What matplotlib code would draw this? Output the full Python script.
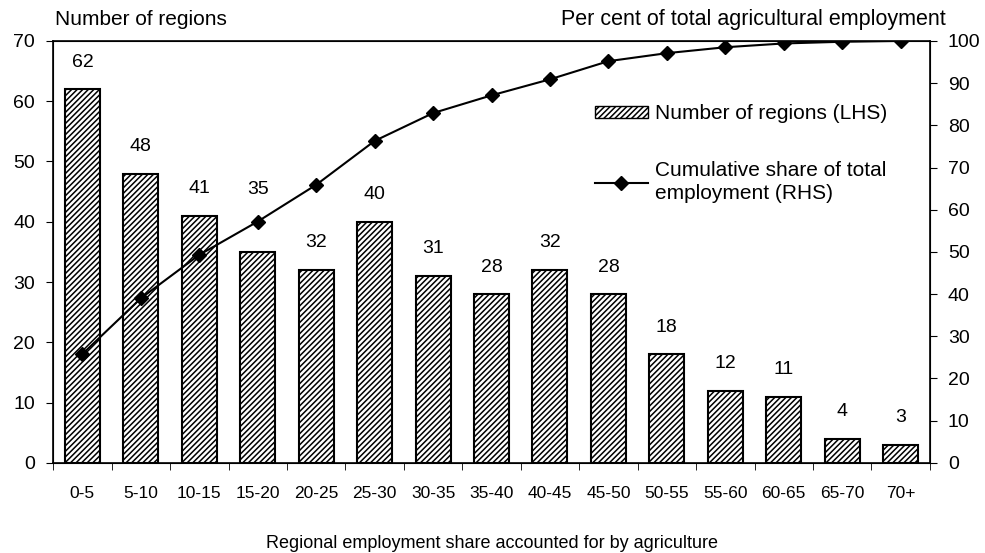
import matplotlib.pyplot as plt
import numpy as np
from matplotlib.patches import Patch
from matplotlib.lines import Line2D

plt.rcParams['font.family'] = ['Liberation Sans', 'DejaVu Sans']
plt.rcParams['hatch.linewidth'] = 1.1

categories = ['0-5', '5-10', '10-15', '15-20', '20-25', '25-30', '30-35', '35-40',
              '40-45', '45-50', '50-55', '55-60', '60-65', '65-70', '70+']
n_regions = [62, 48, 41, 35, 32, 40, 31, 28, 32, 28, 18, 12, 11, 4, 3]
cum_share = [25.8, 39.0, 49.3, 57.2, 65.9, 76.3, 82.9, 87.1, 90.9, 95.2,
             97.1, 98.5, 99.4, 99.8, 100.0]

fig = plt.figure(figsize=(9.85, 5.53), dpi=100)
ax = fig.add_axes([0.054, 0.163, 0.89, 0.763])
ax2 = ax.twinx()

x = np.arange(len(categories))
ax.bar(x, n_regions, width=0.6, color='white', edgecolor='black',
       hatch='//////', linewidth=1.5, zorder=2)
for xi, v in zip(x, n_regions):
    # the 15-20 label sits higher so it clears the line
    dy = 45 if categories[xi] == '15-20' else 19.5
    ax.annotate(str(v), (xi, v), xytext=(0, dy), textcoords='offset points',
                ha='center', va='center', fontsize=14)

ax2.plot(x, cum_share, color='black', lw=1.5, marker='D', markersize=7.5, zorder=3)

ax.set_xlim(-0.5, len(categories) - 0.5)
ax.set_ylim(0, 70)
ax2.set_ylim(0, 100)
ax.set_yticks(range(0, 71, 10))
ax2.set_yticks(range(0, 101, 10))
ax.tick_params(axis='y', labelsize=14, direction='out', length=5, pad=8)
ax2.tick_params(axis='y', labelsize=14, direction='out', length=5, pad=8)
for sp in ['left', 'right', 'top', 'bottom']:
    ax2.spines[sp].set_linewidth(1.2)

ax.set_xticks(x)
ax.set_xticklabels(categories, fontsize=12.5)
ax.set_xticks(np.arange(-0.5, len(categories), 1), minor=True)
ax.tick_params(axis='x', which='major', length=0, pad=17)
ax.tick_params(axis='x', which='minor', length=5, direction='out')

ax.set_xlabel('Regional employment share accounted for by agriculture', fontsize=13,
              labelpad=24)

fig.text(0.056, 0.965, 'Number of regions', fontsize=15, ha='left', va='center')
fig.text(0.96, 0.965, 'Per cent of total agricultural employment', fontsize=15.5,
         ha='right', va='center')

handles = [Patch(facecolor='white', edgecolor='black', hatch='//////'),
           Line2D([0], [0], color='black', lw=1.5, marker='D', markersize=7.5)]
labels = ['Number of regions (LHS)', 'Cumulative share of total\nemployment (RHS)']
leg = ax2.legend(handles, labels, loc='upper left', bbox_to_anchor=(0.608, 0.87),
                 frameon=False, fontsize=15, handlelength=2.55, handleheight=0.5,
                 labelspacing=1.8, handletextpad=0.35, borderaxespad=0)
for t in leg.get_texts():
    t.set_linespacing(1.3)

fig.savefig('out.png', dpi=100)
